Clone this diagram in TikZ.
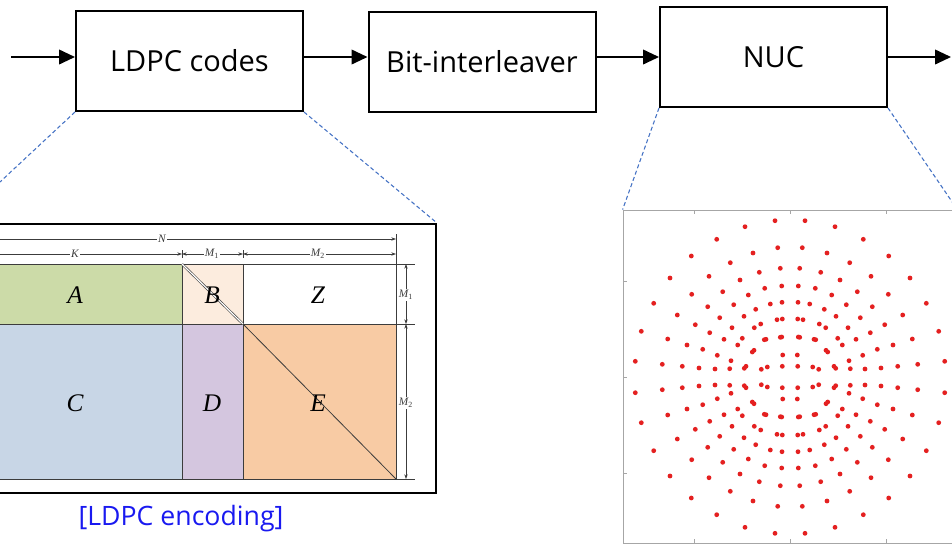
\documentclass[tikz,border=0pt]{standalone}
\usepackage{fontspec}
\setmainfont{Open Sans}
\newfontfamily\tms{Liberation Serif}
\usetikzlibrary{arrows.meta}
\definecolor{dashblue}{RGB}{68,114,196}
\definecolor{dotred}{RGB}{228,32,32}
\definecolor{capblue}{RGB}{25,25,240}
\definecolor{colA}{RGB}{204,219,168}
\definecolor{colB}{RGB}{252,236,222}
\definecolor{colC}{RGB}{200,214,230}
\definecolor{colD}{RGB}{212,198,223}
\definecolor{colE}{RGB}{248,203,164}
\definecolor{dimgray}{RGB}{60,60,60}
\begin{document}
\begin{tikzpicture}[x=0.75pt,y=-0.75pt,
  blk/.style={draw, line width=1.5pt, minimum width=170.25pt, minimum height=75pt, inner sep=0pt, font=\fontsize{21.75}{26}\selectfont},
  flow/.style={line width=1.35pt, -{Triangle[length=12pt,width=11pt]}},
  zoomline/.style={draw=dashblue, line width=0.8pt, dash pattern=on 3pt off 2pt},
  mline/.style={draw=dimgray, line width=0.6pt},
  dimline/.style={draw=dimgray, line width=0.5pt},
  dimarr/.style={dimline, {Stealth[length=3.5pt,width=2.5pt]}-{Stealth[length=3.5pt,width=2.5pt]}},
  dimlab/.style={font=\tms\itshape\fontsize{8.5}{9}\selectfont, fill=white, inner sep=1pt, text=dimgray},
  mlet/.style={font=\tms\itshape\fontsize{19}{21}\selectfont, inner sep=0pt},
  tickl/.style={draw=gray!70, line width=0.5pt}]
\useasboundingbox (0,0) rectangle (952,544);
\clip (0,0) rectangle (952,544);

% top chain
\node[blk] (ldpc) at (189.5,61) {LDPC codes};
\node[blk] (bit) at (482,62) {Bit-interleaver};
\node[blk] (nuc) at (773.5,57) {NUC};
\coordinate (in) at (11,57);
\coordinate (out) at (951,57);
\draw[flow] (in) -- (ldpc.west |- in);
\draw[flow] (ldpc.east |- nuc) -- (bit.west |- nuc);
\draw[flow] (bit.east |- nuc) -- (nuc.west);
\draw[flow] (nuc.east) -- (out);

% LDPC matrix frame
\node[draw, line width=1.5pt, fill=white, minimum width=359.25pt, minimum height=201.75pt, inner sep=0pt] (mframe) at (196.5,358.5) {};
\fill[colA] (-32,264) rectangle (182,324);
\fill[colB] (182,264) rectangle (243,324);
\fill[colC] (-32,324) rectangle (182,479);
\fill[colD] (182,324) rectangle (243,479);
\fill[colE] (243,324) rectangle (396,479);
\draw[mline] (-32,264) -- (415,264);
\draw[mline] (-32,324) -- (415,324);
\draw[mline] (-32,479) -- (415,479);
\draw[mline] (182,264) -- (182,479);
\draw[mline] (243,264) -- (243,479);
\draw[mline] (396,234) -- (396,479);
\draw[mline] (182,250) -- (182,258);
\draw[mline] (243,250) -- (243,258);
\draw[dimgray, line width=0.45pt, double=white, double distance=0.9pt] (182,264) -- (243,324);
\draw[mline] (243,324) -- (396,479);
% dimension lines
\draw[dimline, -{Stealth[length=3.5pt,width=2.5pt]}] (-40,239) -- (396,239);
\node[dimlab] (labN) at (162,239) {N};
\draw[dimline, -{Stealth[length=3.5pt,width=2.5pt]}] (-40,254) -- (182,254);
\node[dimlab] (labK) at (75,254) {K};
\draw[dimarr] (182,254) -- (243,254);
\node[dimlab] (labM1) at (212,254) {M\textsubscript{\upshape 1}};
\draw[dimarr] (243,254) -- (396,254);
\node[dimlab] (labM2) at (318,254) {M\textsubscript{\upshape 2}};
\draw[dimarr] (406,264) -- (406,324);
\node[dimlab] (labM1r) at (406,295) {M\textsubscript{\upshape 1}};
\draw[dimarr] (406,324) -- (406,479);
\node[dimlab] (labM2r) at (406,403) {M\textsubscript{\upshape 2}};
% block letters
\node[mlet] (lA) at (75,295) {A};
\node[mlet] (lB) at (212,295) {B};
\node[mlet] (lZ) at (318,295) {Z};
\node[mlet] (lC) at (75,403) {C};
\node[mlet] (lD) at (212,403) {D};
\node[mlet] (lE) at (318,403) {E};
\node[text=capblue, font=\fontsize{20}{24}\selectfont, inner sep=0pt] (cap) at (181,519) {[LDPC encoding]};

% constellation
\node[draw=gray!70, line width=0.6pt, fill=white, minimum width=250.5pt, minimum height=249.75pt, inner sep=0pt] (cframe) at (790,376.5) {};
\foreach \t in {281,377,473} { \draw[tickl] (623,\t) -- (627,\t); }
\foreach \t in {694,790,886} { \draw[tickl] (\t,210) -- (\t,214); \draw[tickl] (\t,543) -- (\t,539); }
\foreach \a/\b in {15/156.3,45/150.3,73.3/137.7,12.3/129.3,37/124,98.7/121,59.7/114.3,9.7/108.7,30.7/104.7,81/100.7,120/99,50/97,8.3/91,25.3/88.7,67.3/85.3,41.7/82,98.3/82.7,8/74.7,19.7/73,56.3/72.3,136.3/73.7,82.3/70.3,34.3/67.7,46/60.7,112.7/62,7.7/58,13/57.3,70.3/59.3,29.3/53,35.7/49.3,58/49.3,94.7/52.3,148.7/45.7,80.3/44.3,8.3/40,9.7/39.7,24/37.7,25.7/37.3,47.7/38.7,66/37.7,122.3/38,52.3/32,103/32,36/26.7,37.7/25,87.3/27.7,7.3/22,72.7/21.7,59/16.3,154.7/15.7,7.7/10.7,22.7/10,28.7/7.7,44/10.7,45.7/8.7,60.3/8.3,75/8,91/9,107.7/10.7,127.7/12.7} {
  \foreach \sx in {-1,1} { \foreach \sy in {-1,1} {
    \fill[dotred] ({790+\sx*\a},{377-\sy*\b}) circle[radius=1.8pt];
  } }
}

% zoom connectors
\draw[zoomline] (ldpc.south west) -- (mframe.north west);
\draw[zoomline] (ldpc.south east) -- (mframe.north east);
\draw[zoomline] (nuc.south west) -- (cframe.north west);
\draw[zoomline] (nuc.south east) -- (cframe.north east);
\end{tikzpicture}
\end{document}
